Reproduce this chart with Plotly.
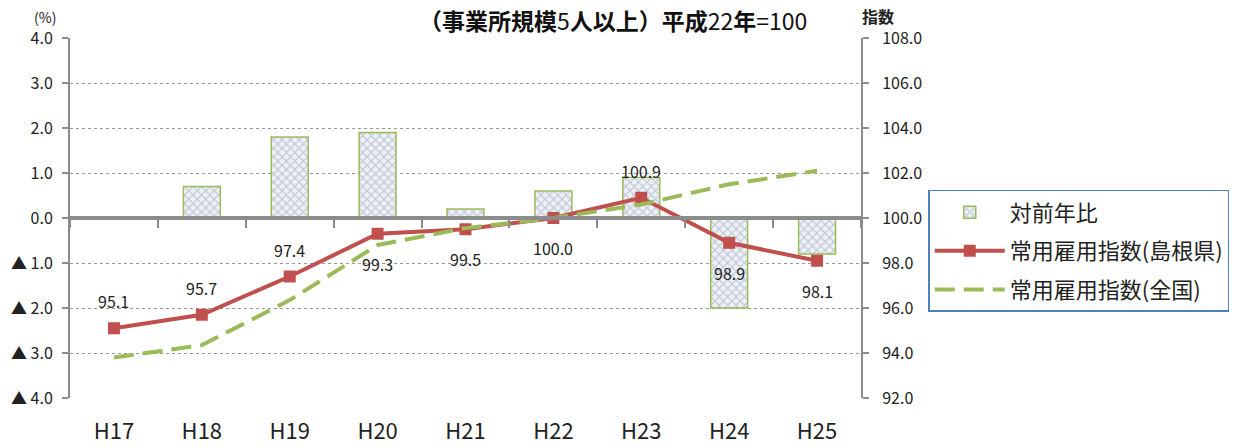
import plotly.graph_objects as go

categories = ["H17", "H18", "H19", "H20", "H21", "H22", "H23", "H24", "H25"]
yoy_change = [None, 0.7, 1.8, 1.9, 0.2, 0.6, 0.9, -2.0, -0.8]
shimane_index = [95.1, 95.7, 97.4, 99.3, 99.5, 100.0, 100.9, 98.9, 98.1]
national_index = [93.8, 94.35, 96.35, 98.8, 99.55, 100.0, 100.6, 101.5, 102.1]
left_tickvals = [4, 3, 2, 1, 0, -1, -2, -3, -4]
left_ticktext = ["4.0", "3.0", "2.0", "1.0", "0.0", "▲ 1.0", "▲ 2.0", "▲ 3.0", "▲ 4.0"]
label_side = ["above", "above", "above", "below", "below", "below", "above", "below", "below"]

FONT = "Noto Sans CJK JP, Noto Sans, sans-serif"
GRAY = "#8c8c8c"

fig = go.Figure()

fig.add_trace(go.Bar(
    x=categories, y=yoy_change, name="対前年比", yaxis="y", xaxis="x",
    width=0.42,
    marker=dict(
        color="#eef2f8",
        line=dict(color="#9BBB59", width=1.5),
        pattern=dict(shape="x", fgcolor="#9aa3b2", size=6, solidity=0.4),
    ),
    legendgroup="a",
))

fig.add_trace(go.Scatter(
    x=categories, y=shimane_index, name="常用雇用指数(島根県)", yaxis="y2", xaxis="x",
    mode="lines+markers",
    line=dict(color="#C0504D", width=4),
    marker=dict(symbol="square", size=12, color="#C0504D"),
    legendgroup="b",
))

fig.add_trace(go.Scatter(
    x=categories, y=national_index, name="常用雇用指数(全国)", yaxis="y2", xaxis="x",
    mode="lines",
    line=dict(color="#9BBB59", width=4, dash="20px,9px"),
    legendgroup="c",
))

# helper trace for the zero-line axis with boundary ticks
fig.add_trace(go.Scatter(
    x=categories, y=[None] * len(categories), xaxis="x2", yaxis="y",
    showlegend=False, hoverinfo="skip", mode="lines",
))

annotations = []
for c, v, side in zip(categories, shimane_index, label_side):
    annotations.append(dict(
        x=c, y=v, xref="x", yref="y2", text=f"{v:.1f}", showarrow=False,
        yshift=27 if side == "above" else -30,
        font=dict(family=FONT, size=16, color="#222"),
    ))

annotations += [
    dict(x=0.687, y=1.103, xref="paper", yref="paper", showarrow=False,
         text="<b>（事業所規模</b>5<b>人以上）平成</b>22<b>年</b>=100",
         font=dict(family=FONT, size=23, color="#111"), xanchor="center", yanchor="top"),
    dict(x=-0.032, y=1.058, xref="paper", yref="paper", showarrow=False, text="(%)",
         font=dict(family=FONT, size=14, color="#222"), xanchor="center", yanchor="middle"),
    dict(x=1.022, y=1.061, xref="paper", yref="paper", showarrow=False, text="<b>指数</b>",
         font=dict(family=FONT, size=16, color="#222"), xanchor="center", yanchor="middle"),
]

fig.update_layout(
    width=1245, height=448,
    margin=dict(l=70, r=384, t=38, b=50, autoexpand=False),
    paper_bgcolor="white", plot_bgcolor="white",
    font=dict(family=FONT, size=16, color="#222"),
    xaxis=dict(
        type="category", showgrid=False, showline=False, zeroline=False,
        ticks="", tickfont=dict(size=22, color="#222"), ticklabelstandoff=18,
        range=[-0.5, 8.5], automargin=False,
    ),
    xaxis2=dict(
        type="category", matches="x", overlaying="x", anchor="free", position=0.5,
        showline=True, linecolor=GRAY, linewidth=3.5, showgrid=False,
        ticks="outside", tickson="boundaries", ticklen=8, tickwidth=2, tickcolor=GRAY,
        showticklabels=False, automargin=False,
    ),
    yaxis=dict(
        range=[-4, 4], tickvals=left_tickvals, ticktext=left_ticktext,
        showgrid=True, gridcolor="#9a9a9a", griddash="dot", gridwidth=1,
        zeroline=False, showline=True, linecolor=GRAY, linewidth=2,
        ticks="outside", ticklen=6, tickwidth=2, tickcolor=GRAY,
        tickfont=dict(size=16, color="#222"), ticklabelstandoff=6, automargin=False,
    ),
    yaxis2=dict(
        range=[92, 108], dtick=2, tickformat=".1f", overlaying="y", side="right",
        showgrid=False, zeroline=False, showline=True, linecolor=GRAY, linewidth=2,
        ticks="outside", ticklen=6, tickwidth=2, tickcolor=GRAY,
        tickfont=dict(size=16, color="#222"), ticklabelstandoff=10, automargin=False,
    ),
    legend=dict(
        x=1.085, y=0.578, xanchor="left", yanchor="top",
        bordercolor="#4F81BD", borderwidth=1.5, bgcolor="white",
        font=dict(family=FONT, size=22, color="#222"),
        traceorder="grouped", tracegroupgap=7, itemwidth=70,
    ),
    annotations=annotations,
    showlegend=True,
)

fig.write_html("out.html", config={"displayModeBar": False},
               post_script="document.body.style.margin='0';")
